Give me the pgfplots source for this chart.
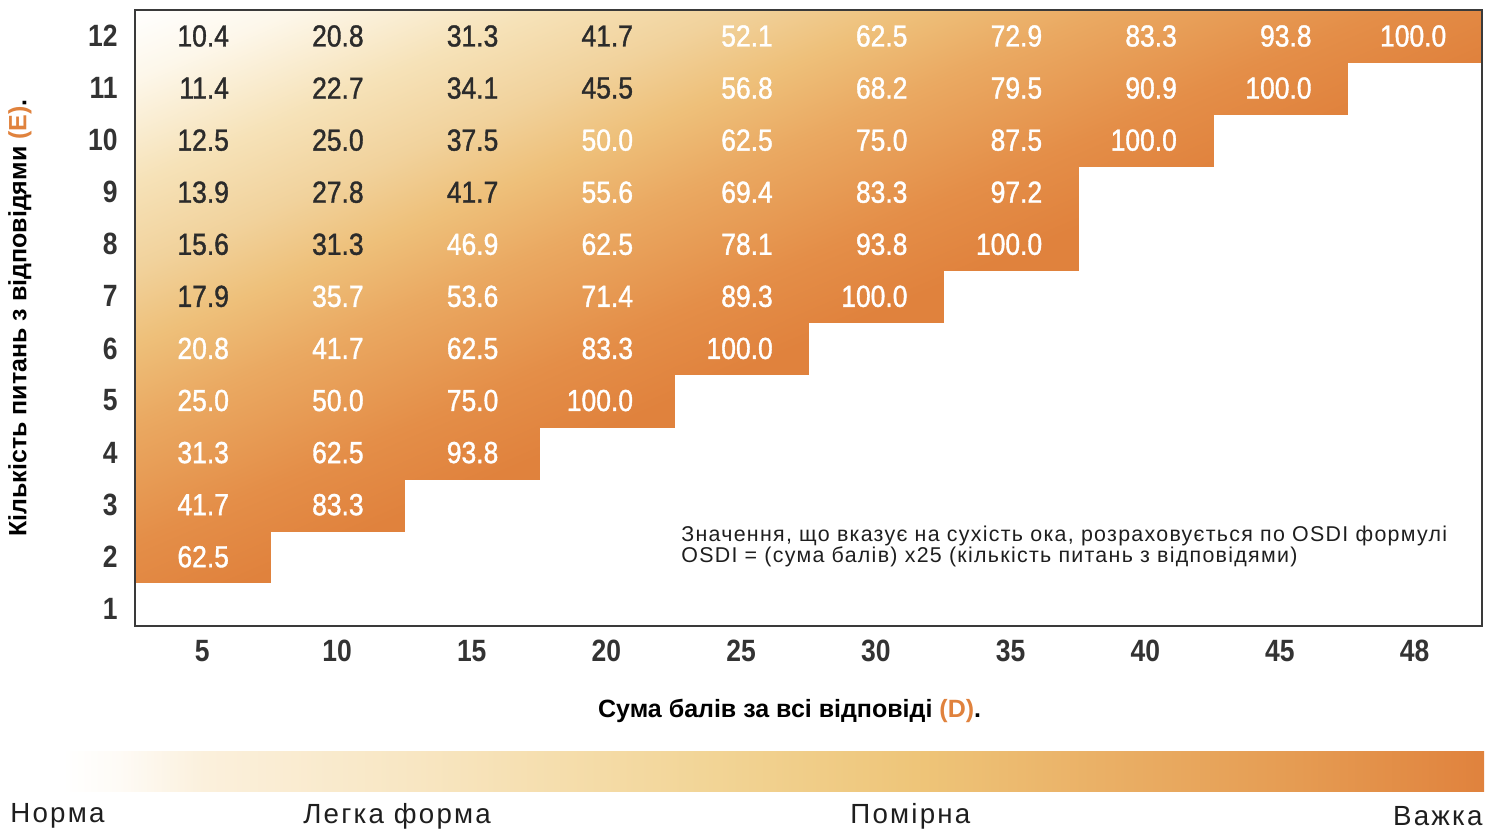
\documentclass[border=0pt]{standalone}
\usepackage{fontspec}
\setmainfont{Liberation Sans}
\newfontfamily\cellfont[FakeStretch=0.87, FakeBold=1.2]{Liberation Sans}
\newfontfamily\tickfont[FakeStretch=0.86]{Liberation Sans}
\newfontfamily\labfont{Liberation Sans}
\newfontfamily\notefont[LetterSpace=6]{Liberation Sans}
\newfontfamily\scalefont[LetterSpace=8]{Liberation Sans}
\usepackage{pgfplots}
\pgfplotsset{compat=1.18}
\usepackage{pgfplotstable}

\definecolor{sh0}{HTML}{FFFFFF}
\definecolor{sh1}{HTML}{FDF7EA}
\definecolor{sh2}{HTML}{F6E2B8}
\definecolor{sh3}{HTML}{F1D29C}
\definecolor{sh4}{HTML}{EEC07A}
\definecolor{sh5}{HTML}{EAA962}
\definecolor{sh6}{HTML}{E48E48}
\definecolor{sh7}{HTML}{E0823D}
\definecolor{b1}{HTML}{FEFBF6}
\definecolor{b2}{HTML}{FBF0DC}
\definecolor{b3}{HTML}{F8E6C2}
\definecolor{b4}{HTML}{F2D597}
\definecolor{b5}{HTML}{EEC579}
\definecolor{b6}{HTML}{EAB066}
\definecolor{b7}{HTML}{E59B52}
\definecolor{orng}{HTML}{E0823D}
\definecolor{framecol}{HTML}{3A3A3A}
\definecolor{tickcol}{HTML}{333333}
\definecolor{darktxt}{HTML}{2B2B2B}
\definecolor{notecol}{HTML}{1E1E1E}

\pgfdeclarehorizontalshading{barshade}{100bp}{color(0bp)=(white); color(25bp)=(white); color(27bp)=(b1); color(30bp)=(b2); color(37.5bp)=(b3); color(47.5bp)=(b4); color(55bp)=(b5); color(61.5bp)=(b6); color(68.5bp)=(b7); color(75bp)=(orng); color(100bp)=(orng)}

% answered region, one strip per row E = 2..12 (OSDI <= 100); t = shade level
\pgfplotstableread{
x y t
-0.5 11.5 0.0909
9.5 11.5 1.0909
9.5 12.5 1.0000
-0.5 12.5 0.0000
-0.5 10.5 0.1818
8.5 10.5 1.0818
8.5 11.53 0.9882
-0.5 11.53 0.0882
-0.5 9.5 0.2727
7.5 9.5 1.0727
7.5 10.53 0.9791
-0.5 10.53 0.1791
-0.5 8.5 0.3636
6.5 8.5 1.0636
6.5 9.53 0.9700
-0.5 9.53 0.2700
-0.5 7.5 0.4545
6.5 7.5 1.1545
6.5 8.53 1.0609
-0.5 8.53 0.3609
-0.5 6.5 0.5455
5.5 6.5 1.1455
5.5 7.53 1.0518
-0.5 7.53 0.4518
-0.5 5.5 0.6364
4.5 5.5 1.1364
4.5 6.53 1.0428
-0.5 6.53 0.5428
-0.5 4.5 0.7273
3.5 4.5 1.1273
3.5 5.53 1.0337
-0.5 5.53 0.6337
-0.5 3.5 0.8182
2.5 3.5 1.1182
2.5 4.53 1.0246
-0.5 4.53 0.7246
-0.5 2.5 0.9091
1.5 2.5 1.1091
1.5 3.53 1.0155
-0.5 3.53 0.8155
-0.5 1.5 1.0000
0.5 1.5 1.1000
0.5 2.53 1.0064
-0.5 2.53 0.9064
}\region

% OSDI = D*25/E ; x index: 0..9 -> D = 5,10,...,45,48 ; y = E
\pgfplotstableread{
x y lab
0 12 10.4
1 12 20.8
2 12 31.3
3 12 41.7
0 11 11.4
1 11 22.7
2 11 34.1
3 11 45.5
0 10 12.5
1 10 25.0
2 10 37.5
0 9 13.9
1 9 27.8
2 9 41.7
0 8 15.6
1 8 31.3
0 7 17.9
}\darktab

\pgfplotstableread{
x y lab
4 12 52.1
5 12 62.5
6 12 72.9
7 12 83.3
8 12 93.8
9 12 100.0
4 11 56.8
5 11 68.2
6 11 79.5
7 11 90.9
8 11 100.0
3 10 50.0
4 10 62.5
5 10 75.0
6 10 87.5
7 10 100.0
3 9 55.6
4 9 69.4
5 9 83.3
6 9 97.2
2 8 46.9
3 8 62.5
4 8 78.1
5 8 93.8
6 8 100.0
1 7 35.7
2 7 53.6
3 7 71.4
4 7 89.3
5 7 100.0
0 6 20.8
1 6 41.7
2 6 62.5
3 6 83.3
4 6 100.0
0 5 25.0
1 5 50.0
2 5 75.0
3 5 100.0
0 4 31.3
1 4 62.5
2 4 93.8
0 3 41.7
1 3 83.3
0 2 62.5
}\whitetab

\begin{document}
\begin{tikzpicture}
\begin{axis}[
  scale only axis, width=673.5pt, height=308pt,
  xmin=-0.5, xmax=9.5, ymin=0.67, ymax=12.5,
  clip=false, axis on top,
  axis line style={draw=framecol, line width=0.8pt},
  colormap={osdi}{color(0pt)=(sh0); color(12pt)=(sh1); color(30pt)=(sh2); color(45pt)=(sh3); color(58pt)=(sh4); color(72pt)=(sh5); color(93pt)=(sh6); color(108pt)=(sh7); color(120pt)=(sh7)},
  point meta min=0, point meta max=1.2,
  xtick={0,1,2,3,4,5,6,7,8,9},
  xticklabels={5,10,15,20,25,30,35,40,45,48},
  ytick={1,2,3,4,5,6,7,8,9,10,11,12},
  yticklabels={1,2,3,4,5,6,7,8,9,10,11,12},
  major tick length=0pt, tick style={draw=none},
  tick label style={font=\tickfont\bfseries\fontsize{15.4}{16}\selectfont, text=tickcol, inner sep=0pt},
  xticklabel style={anchor=north, yshift=-7pt},
  yticklabel style={anchor=east, xshift=-8.5pt},
  xlabel={\labfont\bfseries Сума балів за всі відповіді \textcolor{orng}{(D)}.},
  xlabel style={at={(axis description cs:0.486,-0.138)}, anchor=center, font=\fontsize{12.5}{14}\selectfont, inner sep=0pt},
  ylabel={\labfont\bfseries Кількість питань з відповідями \textcolor{orng}{(E)}.},
  ylabel style={at={(axis description cs:-0.0854,0.5)}, anchor=center, rotate=0, font=\fontsize{12.5}{14}\selectfont, inner sep=0pt},
]
\addplot[patch, patch type=rectangle, shader=interp, point meta=explicit]
  table[x=x, y=y, meta=t] {\region};

\addplot[draw=none, mark=none, nodes near coords, point meta=explicit symbolic,
  every node near coord/.append style={font=\cellfont\fontsize{15.2}{16}\selectfont, text=darktxt, anchor=east, xshift=13.5pt, inner sep=0pt}]
  table[x=x, y=y, meta=lab] {\darktab};
\addplot[draw=none, mark=none, nodes near coords, point meta=explicit symbolic,
  restrict x to domain=0:3.5,
  every node near coord/.append style={font=\cellfont\fontsize{15.2}{16}\selectfont, text=white, anchor=east, xshift=13.5pt, inner sep=0pt}]
  table[x=x, y=y, meta=lab] {\whitetab};
\addplot[draw=none, mark=none, nodes near coords, point meta=explicit symbolic,
  restrict x to domain=3.6:9.5,
  every node near coord/.append style={font=\cellfont\fontsize{15.2}{16}\selectfont, text=white, anchor=east, xshift=16pt, inner sep=0pt}]
  table[x=x, y=y, meta=lab] {\whitetab};

\node[anchor=west, align=left, font=\notefont\fontsize{10.7}{10.5}\selectfont, text=notecol, inner sep=0pt] at (rel axis cs:0.4053,0.129)
  {Значення, що вказує на сухість ока, розраховується по OSDI формулі\\OSDI = (сума балів) x25 (кількість питань з відповідями)};

% severity scale
\path[shading=barshade, shading angle=0] (rel axis cs:-0.054,-0.2045) rectangle (rel axis cs:1.0015,-0.268);
\node[anchor=west, font=\scalefont\fontsize{13.85}{14}\selectfont, inner sep=0pt, text=notecol] at (rel axis cs:-0.0928,-0.3085) {Норма};
\node[anchor=west, font=\scalefont\fontsize{13.85}{14}\selectfont, inner sep=0pt, text=notecol] at (rel axis cs:0.1247,-0.3085) {Легка форма};
\node[anchor=west, font=\scalefont\fontsize{13.85}{14}\selectfont, inner sep=0pt, text=notecol] at (rel axis cs:0.5308,-0.3085) {Помірна};
\node[anchor=east, font=\scalefont\fontsize{13.85}{14}\selectfont, inner sep=0pt, text=notecol] at (rel axis cs:1.0007,-0.3085) {Важка};

% page frame (1501 x 831 px)
\path (rel axis cs:-0.1002,1.0162) rectangle (rel axis cs:1.0141,-0.3328);
\end{axis}
\end{tikzpicture}
\end{document}
